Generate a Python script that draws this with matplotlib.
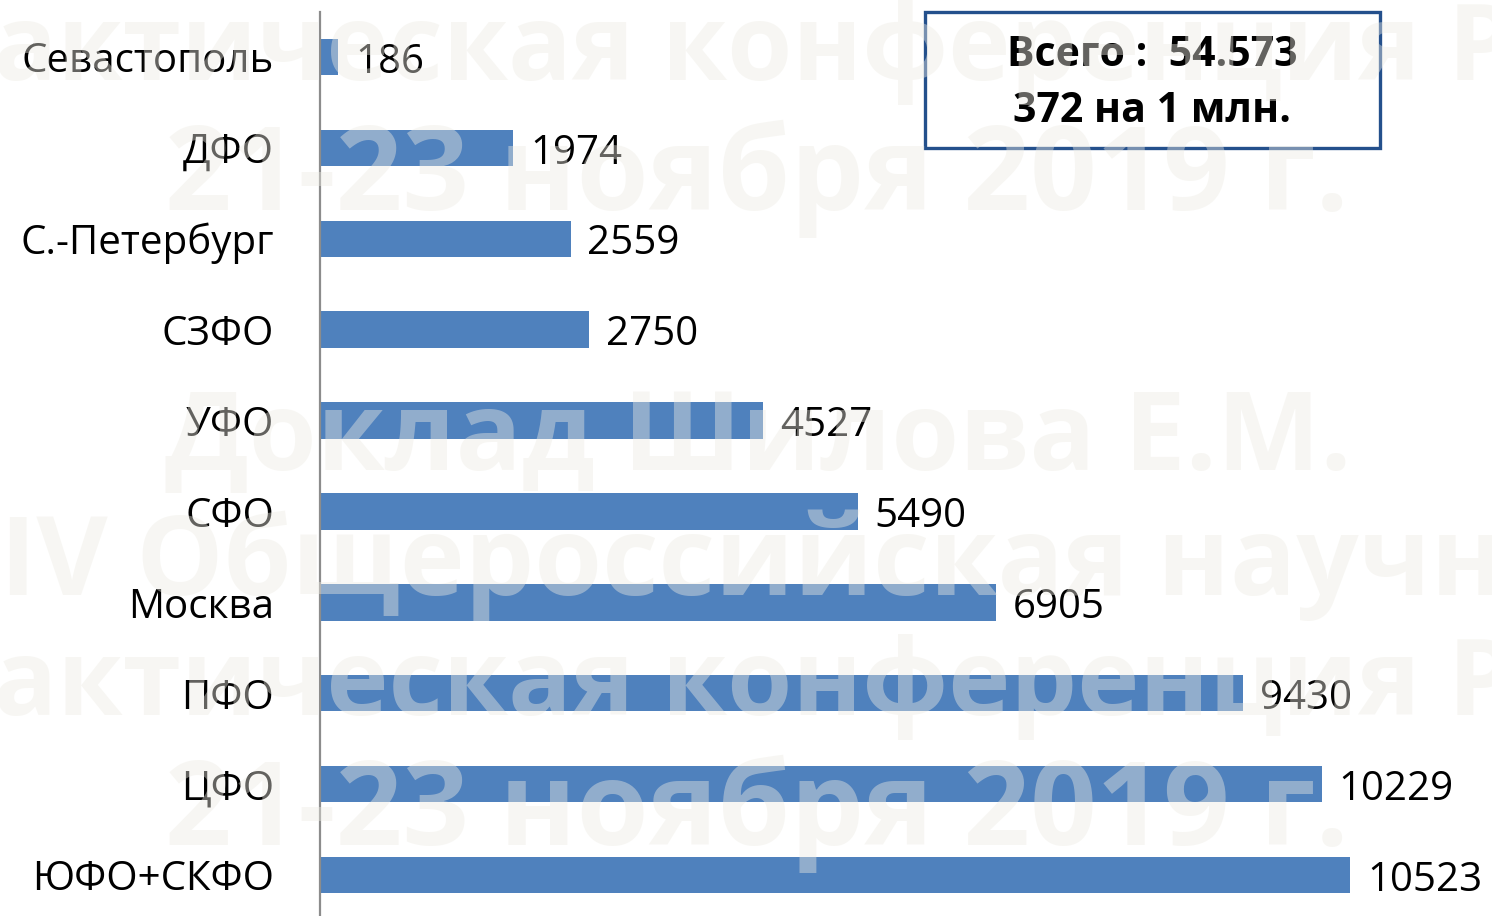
import matplotlib
matplotlib.use("Agg")
import matplotlib.pyplot as plt
from matplotlib.patches import Rectangle

plt.rcParams['font.family'] = ['Open Sans', 'DejaVu Sans']

regions = ['Севастополь', 'ДФО', 'С.-Петербург', 'СЗФО', 'УФО',
           'СФО', 'Москва', 'ПФО', 'ЦФО', 'ЮФО+СКФО']
counts = [186, 1974, 2559, 2750, 4527, 5490, 6905, 9430, 10229, 10523]
total_text = 'Всего :  54.573'
per_million_text = '372 на 1 млн.'

# watermark lines: text, left x (px), baseline y (px), size
wm_text = ['практическая конференция РДО', '21-23 ноября 2019 г.',
           'Доклад Шилова Е.М.', 'IV Общероссийская научно-',
           'практическая конференция РДО', '21-23 ноября 2019 г.']
wm_x = [-142, 165, 165, 0, -142, 165]
wm_y = [80, 210, 470, 595, 715, 845]
wm_size = [76, 84, 79, 79, 76, 84]

W, H = 1492, 916
fig = plt.figure(figsize=(W / 100, H / 100), dpi=100)
ax = fig.add_axes([320 / W, 1 - 920.5 / H, 1175 / W, 909 / H])

ypos = list(range(len(regions)))
ax.barh(ypos, counts, height=0.4, color='#4f81bd', zorder=2)
ax.set_ylim(len(regions) - 0.5, -0.5)
ax.set_xlim(0, 12000)

for y, v in zip(ypos, counts):
    ax.text(v + 170, y + 0.06, str(v), va='center', ha='left',
            fontsize=29, color='black', zorder=3)

ax.set_yticks(ypos)
ax.set_yticklabels(regions, fontsize=29)
ax.tick_params(axis='y', length=0, pad=33)
ax.set_xticks([])
for s in ['top', 'right', 'bottom']:
    ax.spines[s].set_visible(False)
ax.spines['left'].set_color('#8c8c8c')
ax.spines['left'].set_linewidth(1.6)

# summary box
box = Rectangle((925 / W, 1 - 148 / H), 455 / W, 136 / H, transform=fig.transFigure,
                fill=False, edgecolor='#24508c', linewidth=2.4, zorder=5)
fig.add_artist(box)
fig.text(1152 / W, 1 - 55 / H, total_text, ha='center', va='center',
         fontsize=29.5, fontweight='bold', zorder=6)
fig.text(1152 / W, 1 - 111 / H, per_million_text, ha='center', va='center',
         fontsize=29.5, fontweight='bold', zorder=6)

for t, x, y, s in zip(wm_text, wm_x, wm_y, wm_size):
    fig.text(x / W, 1 - y / H, t, ha='left', va='baseline', fontsize=s,
             fontweight='bold', color='#edebe3', alpha=0.42, zorder=10)

fig.savefig('out.png', dpi=100)
